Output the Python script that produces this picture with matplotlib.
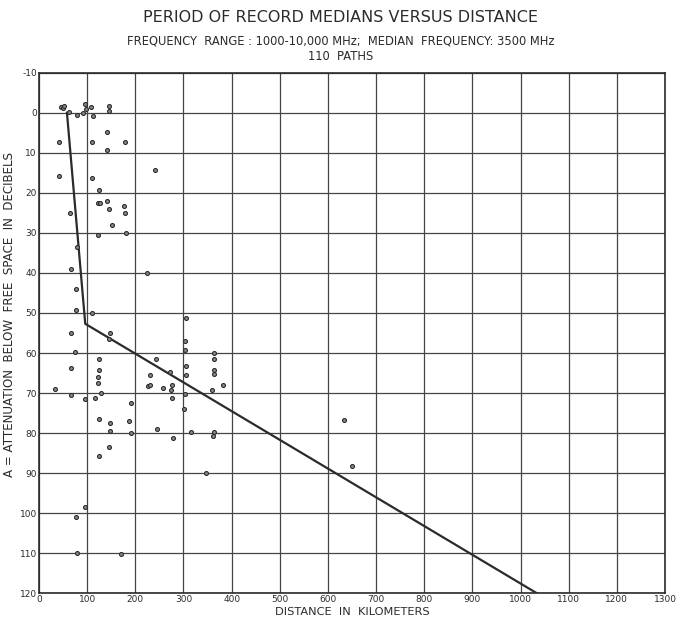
import matplotlib
matplotlib.use("Agg")
import matplotlib.pyplot as plt
import numpy as np

# distance (km) and attenuation below free space (dB) for each path median
dist_km = [45, 50, 62, 78, 95, 92, 108, 112, 145, 145, 97, 51,
           41, 111, 141, 141, 178, 241, 41, 111, 124, 123, 126, 141,
           146, 176, 179, 64, 152, 122, 180, 79,
           66, 224, 77, 77, 110, 306, 66, 148, 146, 304, 304, 74,
           124, 242, 66, 124, 306, 231, 273, 123, 305, 123, 226, 230,
           277, 257, 274, 33, 129, 304, 66, 95, 117, 190, 277,
           124, 147, 186, 147, 190, 245, 278, 315, 302, 146, 124, 346,
           95, 77, 79, 170,
           364, 364, 364, 364, 359, 382, 364, 361,
           633, 651]
atten_db = [-1.5, -1.1, -0.2, 0.6, -2.2, 0.0, -1.5, 0.8, -1.7, -0.4, -0.9, -1.8,
            7.3, 7.2, 4.9, 9.4, 7.2, 14.2, 15.8, 16.2, 19.4, 22.5, 22.6, 22.0,
            24.0, 23.4, 25.1, 25.0, 28.0, 30.6, 30.1, 33.5,
            38.9, 39.9, 44.1, 49.2, 50.1, 51.3, 55.1, 55.0, 56.6, 57.1, 59.3, 59.8,
            61.6, 61.6, 63.7, 64.3, 63.2, 65.4, 64.7, 66.1, 65.6, 67.4, 68.3, 68.0,
            68.1, 68.8, 69.3, 69.1, 70.0, 70.2, 70.6, 71.6, 71.3, 72.6, 71.2,
            76.4, 77.4, 77.1, 79.5, 80.0, 78.9, 81.2, 79.7, 74.1, 83.5, 85.8, 90.0,
            98.5, 100.9, 109.9, 110.1,
            60.1, 61.5, 64.2, 65.2, 69.2, 68.0, 79.6, 80.8,
            76.7, 88.2]

# fitted broken line
fit_km = [58, 96, 1034]
fit_db = [0, 52.7, 120]

x_ticks = list(range(0, 1301, 100))
y_ticks = list(range(-10, 121, 10))

plt.rcParams["font.family"] = ["DejaVu Sans"]
ink = "#2b2b2b"

fig = plt.figure(figsize=(6.81, 6.23), dpi=100)
ax = fig.add_axes([0.0573, 0.0477, 0.9192, 0.8356])

ax.set_xlim(0, 1300)
ax.set_ylim(120, -10)
ax.set_xticks(x_ticks)
ax.set_yticks(y_ticks)
ax.set_xticklabels([str(v) for v in x_ticks], fontsize=6.5, color=ink)
ax.set_yticklabels([str(v) for v in y_ticks], fontsize=6.5, color=ink)
ax.tick_params(length=0, pad=1.5)
ax.grid(True, color="#454545", linewidth=0.9)
for s in ax.spines.values():
    s.set_color(ink)
    s.set_linewidth(1.2)

ax.plot(fit_km, fit_db, color=ink, linewidth=1.6, zorder=3)
ax.scatter(dist_km, atten_db, s=8, facecolor="#8a8a8a", edgecolor=ink,
           linewidth=0.8, zorder=4, clip_on=False)

fig.text(0.5, 0.972, "PERIOD OF RECORD MEDIANS VERSUS DISTANCE",
         ha="center", va="center", fontsize=11.5, color=ink)
fig.text(0.5, 0.934, "FREQUENCY  RANGE : 1000-10,000 MHz;  MEDIAN  FREQUENCY: 3500 MHz",
         ha="center", va="center", fontsize=8.3, color=ink)
fig.text(0.5, 0.909, "110  PATHS", ha="center", va="center", fontsize=8.3, color=ink)
ax.set_xlabel("DISTANCE  IN  KILOMETERS", fontsize=8.2, color=ink, labelpad=2)
ax.set_ylabel("A = ATTENUATION  BELOW  FREE  SPACE  IN  DECIBELS",
              fontsize=8.6, color=ink)
ax.yaxis.set_label_coords(-0.037, 0.535)

fig.savefig("out.png", dpi=100)
